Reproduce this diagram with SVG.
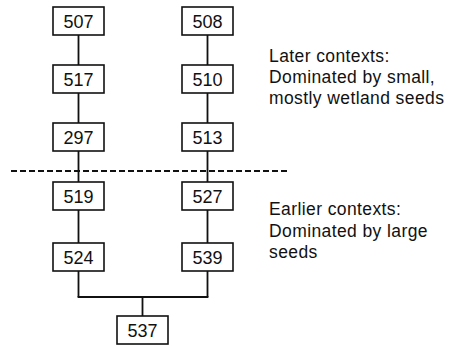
<svg xmlns="http://www.w3.org/2000/svg" width="450" height="347" viewBox="0 0 450 347">
  <style>
    .box { fill: #ffffff; stroke: #111111; stroke-width: 1.6; }
    .num { font-family: "Liberation Sans", Arial, sans-serif; font-size: 18px; fill: #111111; text-anchor: middle; }
    .link { fill: none; stroke: #111111; stroke-width: 1.8; }
    .divider { fill: none; stroke: #111111; stroke-width: 2; stroke-dasharray: 6 3; }
    .note { font-family: "Liberation Sans", Arial, sans-serif; font-size: 17.5px; letter-spacing: 0.4px; fill: #111111; }
  </style>
  <rect width="450" height="347" fill="#ffffff"/>

  <!-- connectors -->
  <g id="connectors">
    <path class="link" d="M78.5 35 V65 M78.5 93 V123 M78.5 151 V182 M78.5 210 V243 M78.5 271 V297"/>
    <path class="link" d="M207.5 35 V65 M207.5 93 V123 M207.5 151 V182 M207.5 210 V243 M207.5 271 V297"/>
    <path class="link" d="M77.6 297 H208.4 M142.5 297 V316"/>
  </g>

  <!-- boundary between later and earlier contexts -->
  <line id="divider" class="divider" x1="11" y1="171" x2="289" y2="171"/>

  <!-- left sequence -->
  <g id="n507"><rect class="box" x="53" y="7" width="51" height="28"/><text class="num" x="78.5" y="27.5">507</text></g>
  <g id="n517"><rect class="box" x="53" y="65" width="51" height="28"/><text class="num" x="78.5" y="85.5">517</text></g>
  <g id="n297"><rect class="box" x="53" y="123" width="51" height="28"/><text class="num" x="78.5" y="143.5">297</text></g>
  <g id="n519"><rect class="box" x="53" y="182" width="51" height="28"/><text class="num" x="78.5" y="202.5">519</text></g>
  <g id="n524"><rect class="box" x="53" y="243" width="51" height="28"/><text class="num" x="78.5" y="263.5">524</text></g>

  <!-- right sequence -->
  <g id="n508"><rect class="box" x="182" y="7" width="51" height="28"/><text class="num" x="207.5" y="27.5">508</text></g>
  <g id="n510"><rect class="box" x="182" y="65" width="51" height="28"/><text class="num" x="207.5" y="85.5">510</text></g>
  <g id="n513"><rect class="box" x="182" y="123" width="51" height="28"/><text class="num" x="207.5" y="143.5">513</text></g>
  <g id="n527"><rect class="box" x="182" y="182" width="51" height="28"/><text class="num" x="207.5" y="202.5">527</text></g>
  <g id="n539"><rect class="box" x="182" y="243" width="51" height="28"/><text class="num" x="207.5" y="263.5">539</text></g>

  <!-- common base -->
  <g id="n537"><rect class="box" x="117" y="316" width="51" height="28"/><text class="num" x="142.5" y="336.5">537</text></g>

  <!-- annotations -->
  <g id="note-later">
    <text class="note" x="269" y="62">Later contexts:</text>
    <text class="note" x="269" y="83">Dominated by small,</text>
    <text class="note" x="269" y="104">mostly wetland seeds</text>
  </g>
  <g id="note-earlier">
    <text class="note" x="269" y="215">Earlier contexts:</text>
    <text class="note" x="269" y="237">Dominated by large</text>
    <text class="note" x="269" y="258">seeds</text>
  </g>
</svg>
